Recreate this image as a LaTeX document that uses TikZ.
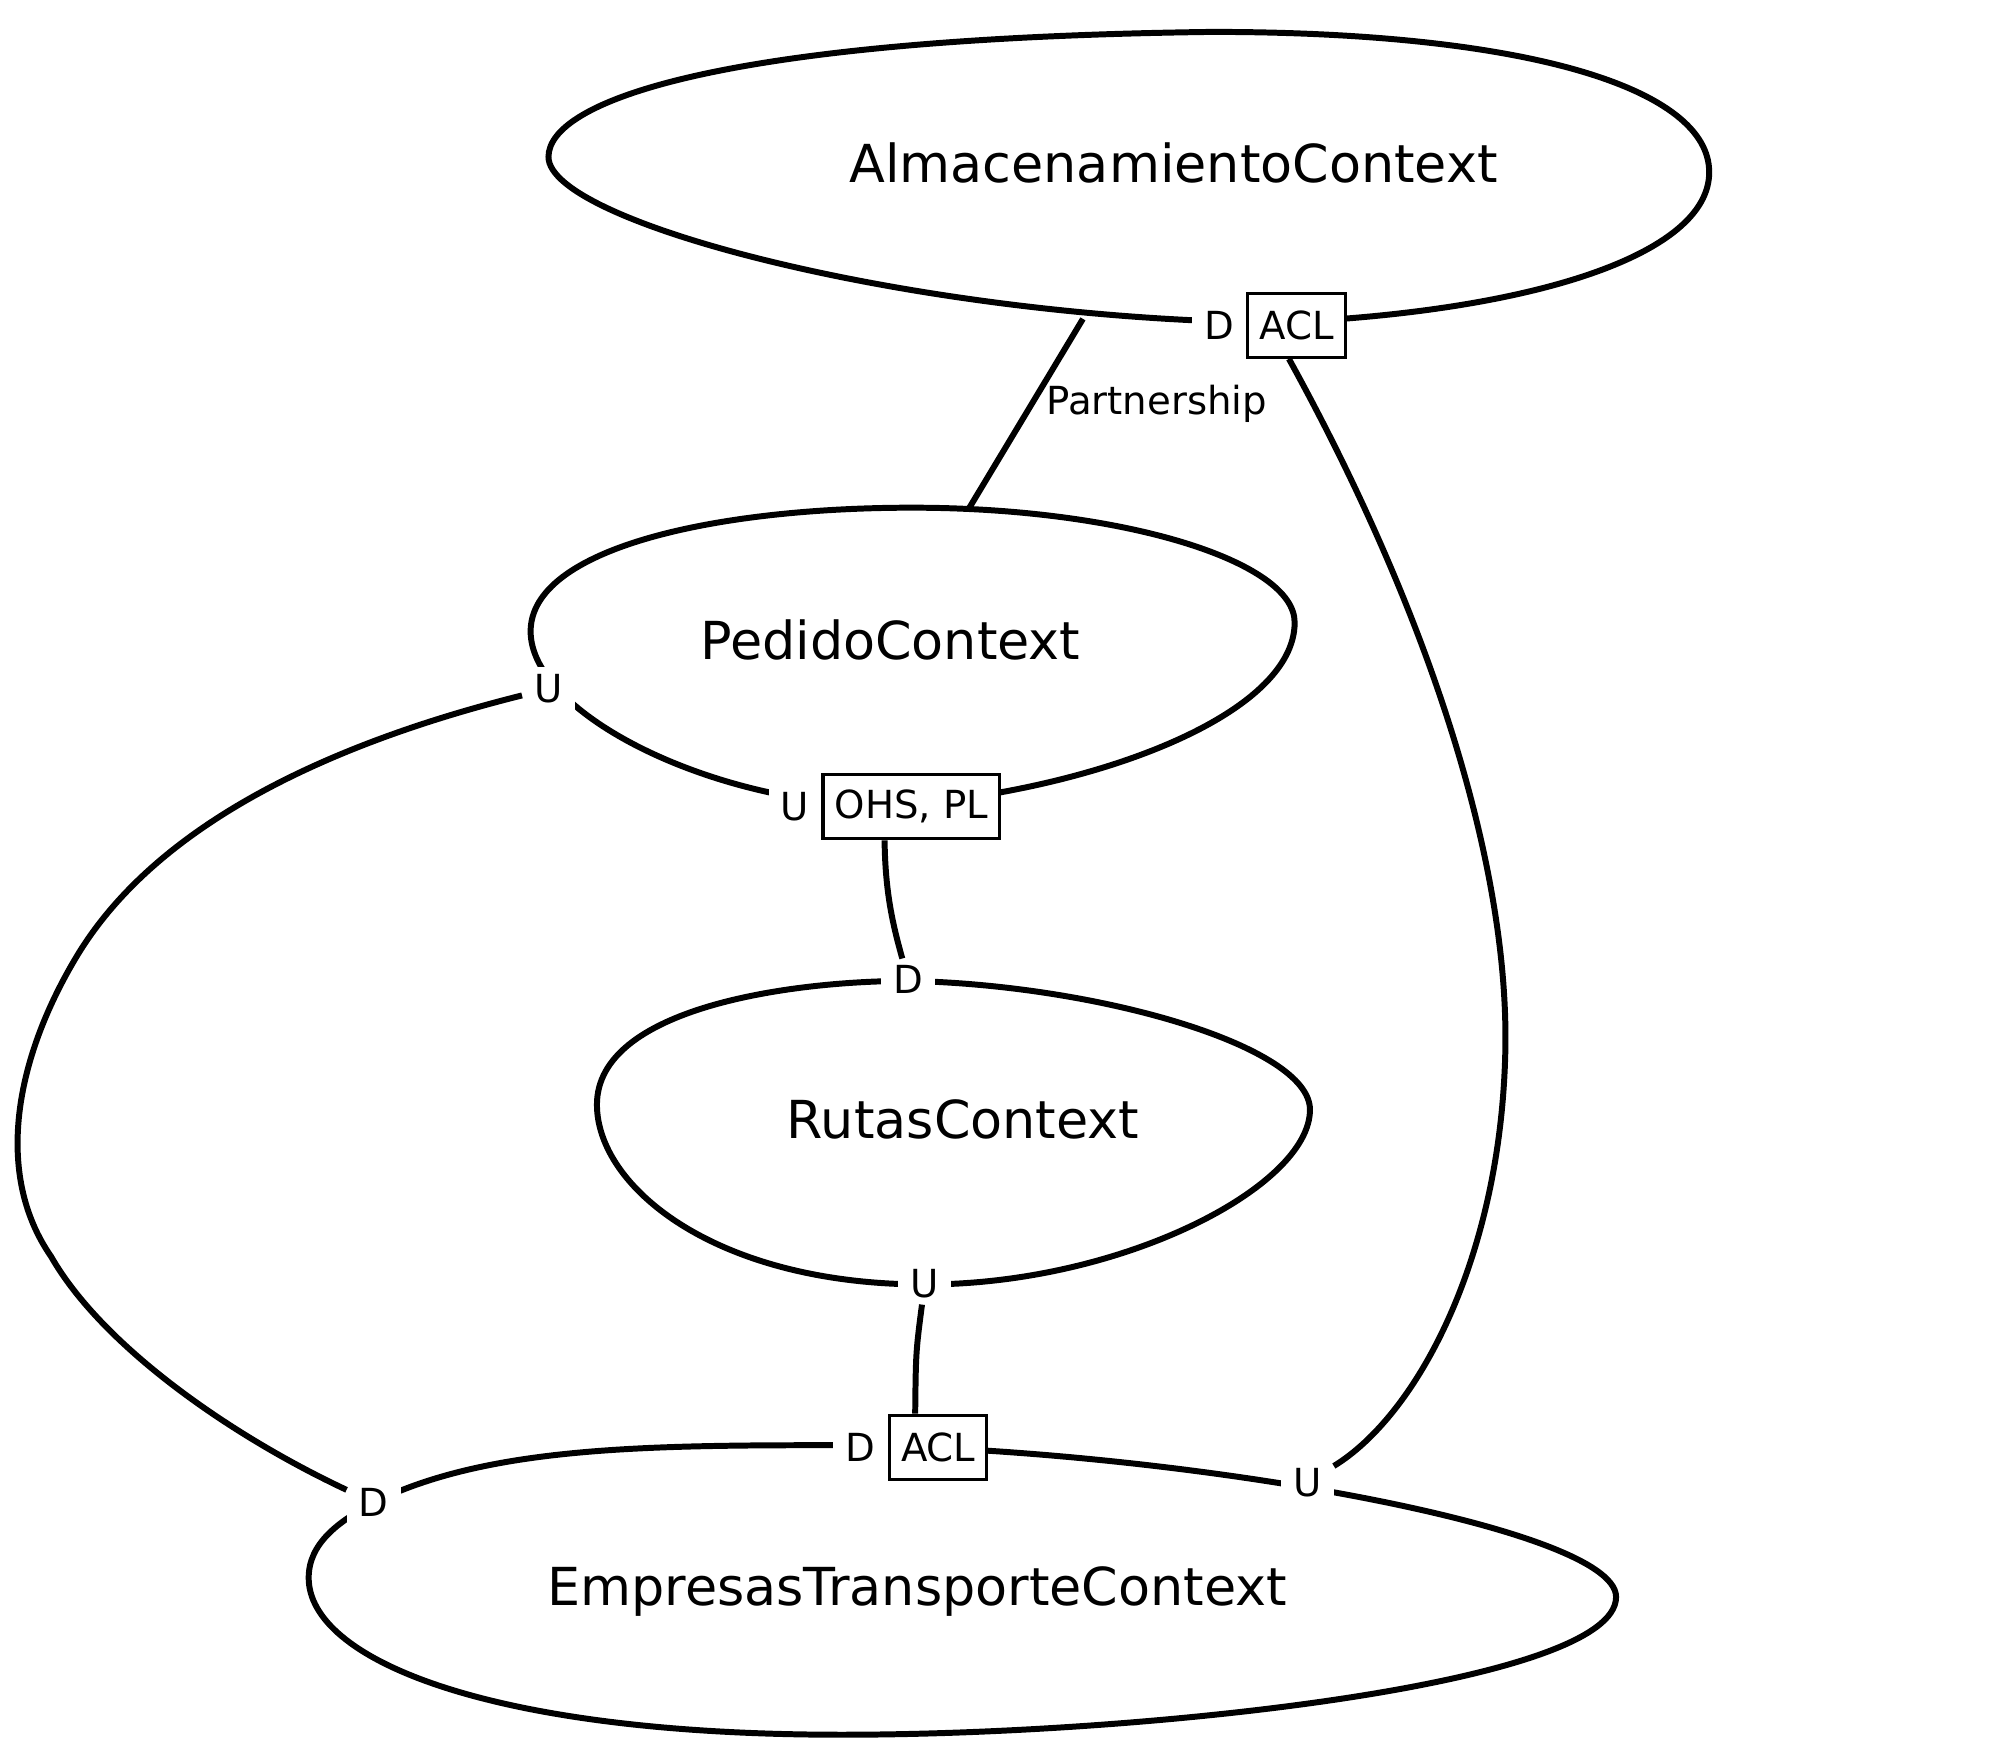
\documentclass[tikz,border=0pt]{standalone}
\usepackage{fontspec}
\setmainfont{DejaVu Sans}
\usetikzlibrary{calc}
\begin{document}
\begin{tikzpicture}[x=0.012755cm, y=-0.012755cm,
    context/.style={line width=1.7pt},
    rel/.style={line width=1.7pt},
    ctxname/.style={font=\fontsize{14.9pt}{18pt}\selectfont},
    role/.style={fill=white, inner xsep=3.5pt, inner ysep=2pt, outer sep=0pt,
    font=\fontsize{11pt}{13pt}\selectfont},
    patternbox/.style={draw, line width=0.9pt, fill=white, inner xsep=3.3pt,
    inner ysep=0pt, minimum height=0.64cm, font=\fontsize{11pt}{13pt}\selectfont}]
    \useasboundingbox (0,0) rectangle (1568,1381);
    \draw[context] (430,123) .. controls (430,80) and (560,30) .. (950,25)
        .. controls (1200,25) and (1340,70) .. (1340,135)
        .. controls (1340,200) and (1200,245) .. (1000,253)
        .. controls (720,250) and (430,175) .. cycle;
    \draw[context] (416,495) .. controls (416,430) and (560,398) .. (715,398)
        .. controls (880,398) and (1015,440) .. (1015,488)
        .. controls (1015,560) and (860,620) .. (700,632)
        .. controls (560,632) and (416,560) .. cycle;
    \draw[context] (468,866) .. controls (468,790) and (620,769) .. (712,769)
        .. controls (860,772) and (1027,820) .. (1027,870)
        .. controls (1027,930) and (880,1007) .. (725,1007)
        .. controls (560,1007) and (468,930) .. cycle;
    \draw[context] (242,1237) .. controls (242,1210) and (265,1193) .. (293,1178)
        .. controls (380,1135) and (500,1133) .. (650,1133)
        .. controls (900,1133) and (1267,1195) .. (1267,1252)
        .. controls (1267,1320) and (900,1360) .. (660,1360)
        .. controls (380,1360) and (242,1300) .. cycle;
    \node[ctxname] (alm) at (920,128) {AlmacenamientoContext};
    \node[ctxname] (ped) at (698,502) {PedidoContext};
    \node[ctxname] (rut) at (755,878) {RutasContext};
    \node[ctxname] (emp) at (719,1248) {EmpresasTransporteContext};
    \coordinate (almP) at (849,250);
    \coordinate (pedP) at (760,398);
    \node[patternbox] (almACL) at (1016.5,255) {ACL};
    \node[role, anchor=east] (almD) at (almACL.west) {D};
    \node[role] (pedU1) at (430,540) {U};
    \node[patternbox] (pedOHS) at (714.5,632.5) {OHS, PL};
    \node[role, anchor=east] (pedU2) at (pedOHS.west) {U};
    \node[role] (rutD) at (712,768) {D};
    \node[role] (rutU) at (725,1006) {U};
    \node[role] (empD1) at (293,1178) {D};
    \node[patternbox] (empACL) at (735.5,1134.5) {ACL};
    \node[role, anchor=east] (empD2) at (empACL.west) {D};
    \node[role] (empU) at (1025,1162) {U};
    \draw[rel] (almP) -- node[font=\fontsize{11pt}{13pt}\selectfont, pos=0.45, right=0pt] {Partnership} (pedP);
    \draw[rel] ($(almACL.south)+(-6,0)$) .. controls (1120,480) and (1185,680) .. (1180,830)
        .. controls (1175,990) and (1110,1110) .. (empU);
    \draw[rel] ($(pedOHS.south)+(-21,0)$) .. controls (694,700) and (700,725) .. (rutD);
    \draw[rel] (pedU1) .. controls (250,585) and (120,650) .. (60,750)
        .. controls (12,830) and (-5,920) .. (40,985)
        .. controls (80,1055) and (180,1125) .. (empD1);
    \draw[rel] (rutU) .. controls (718,1060) .. ($(empACL.north)+(-18,0)$);
\end{tikzpicture}
\end{document}
